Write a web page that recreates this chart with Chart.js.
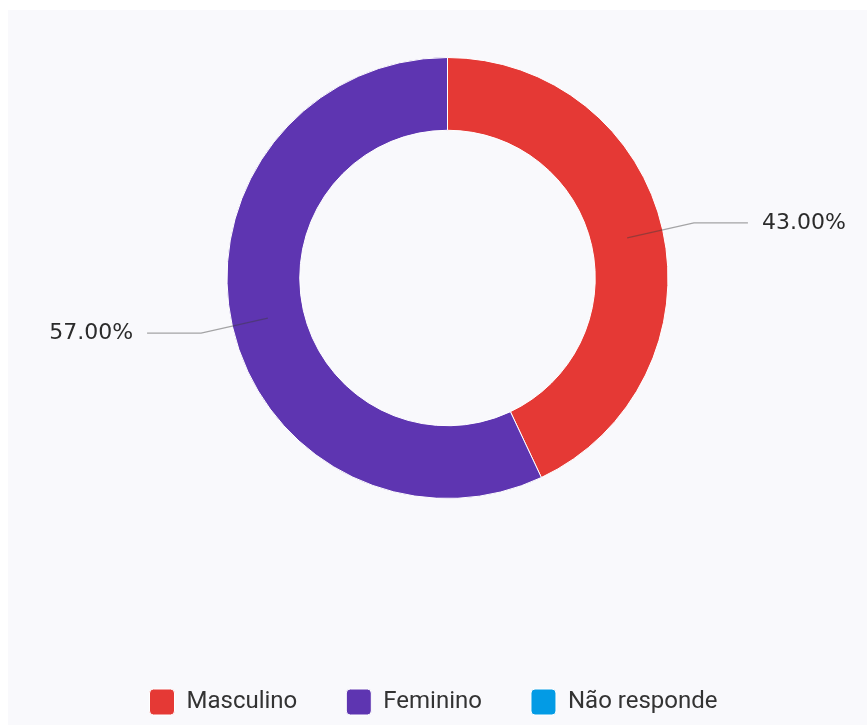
<!DOCTYPE html>
<html>
<head>
<meta charset="utf-8">
<title>Sexo</title>
<script src="https://cdn.jsdelivr.net/npm/chart.js@4"></script>
<style>
  html, body { margin: 0; padding: 0; background: #ffffff; }
  #panel { position: absolute; left: 8px; top: 10px; right: 0; bottom: 0; background: #f9f9fc; }
  #wrap { position: absolute; left: 0; top: 0; width: 867px; height: 725px; }
</style>
</head>
<body>
<div id="panel"></div>
<div id="wrap"><canvas id="chart" width="867" height="725"></canvas></div>
<script>
// Respondents by sex (percent)
const categories = ['Masculino', 'Feminino', 'Não responde'];
const shares = [43, 57, 0];
const sliceColors = ['#e53935', '#5e35b1', '#039be5'];

// Percentage labels joined to each slice by a bent leader line
const leaderLabels = {
  id: 'leaderLabels',
  afterDatasetsDraw(chart) {
    const ctx = chart.ctx;
    const meta = chart.getDatasetMeta(0);
    const values = chart.data.datasets[0].data;
    const total = values.reduce((a, b) => a + b, 0);
    ctx.save();
    meta.data.forEach((arc, i) => {
      const v = values[i];
      if (!v) return;
      const p = arc.getProps(['x', 'y', 'startAngle', 'endAngle', 'innerRadius', 'outerRadius'], true);
      const mid = (p.startAngle + p.endAngle) / 2;
      const cos = Math.cos(mid), sin = Math.sin(mid);
      const r0 = (p.innerRadius + p.outerRadius) / 2;
      const r1 = p.outerRadius + 32;
      const x0 = p.x + cos * r0, y0 = p.y + sin * r0;
      const x1 = p.x + cos * r1, y1 = p.y + sin * r1;
      const dir = cos >= 0 ? 1 : -1;
      const x2 = x1 + dir * 54;
      ctx.beginPath();
      ctx.moveTo(x0, y0);
      ctx.lineTo(x1, y1);
      ctx.lineTo(x2, y1);
      ctx.strokeStyle = 'rgba(60,60,60,0.45)';
      ctx.lineWidth = 1.2;
      ctx.stroke();
      ctx.fillStyle = '#2b2b2b';
      ctx.font = '22px "DejaVu Sans"';
      ctx.textAlign = dir > 0 ? 'left' : 'right';
      ctx.textBaseline = 'middle';
      ctx.fillText((v / total * 100).toFixed(2) + '%', x2 + dir * 14, y1);
    });
    ctx.restore();
  }
};

Chart.defaults.font.family = 'Roboto';

new Chart(document.getElementById('chart'), {
  type: 'doughnut',
  data: {
    labels: categories,
    datasets: [{
      data: shares,
      backgroundColor: sliceColors,
      borderColor: '#ffffff',
      borderWidth: 1,
      hoverOffset: 0
    }]
  },
  options: {
    responsive: false,
    animation: false,
    cutout: '67%',
    layout: { padding: { top: 57, bottom: 0, left: 0, right: 0 } },
    plugins: {
      // empty left title acts as a gutter that moves the ring right
      title: {
        display: true,
        position: 'left',
        text: '',
        font: { size: 10, lineHeight: 1 },
        padding: { top: 18, bottom: 0 }
      },
      legend: {
        position: 'bottom',
        title: {
          display: true,
          text: '',
          font: { size: 10, lineHeight: 1 },
          padding: { top: 131, bottom: 0 }
        },
        labels: {
          boxWidth: 25,
          boxHeight: 26,
          padding: 49,
          color: '#333333',
          useBorderRadius: true,
          borderRadius: 4,
          font: { family: 'Roboto', size: 24 }
        }
      },
      tooltip: { enabled: false }
    }
  },
  plugins: [leaderLabels]
});
</script>
</body>
</html>
